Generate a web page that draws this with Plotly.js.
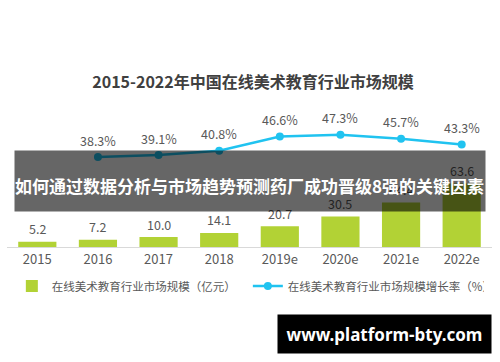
<!DOCTYPE html>
<html>
<head>
<meta charset="utf-8">
<script src="https://cdn.plot.ly/plotly-3.0.1.min.js"></script>
<style>html,body{margin:0;padding:0;background:#fff;}#chart{width:500px;height:362px;}</style>
</head>
<body>
<div id="chart"></div>
<script>
// ---- data ----
const years = ['2015', '2016', '2017', '2018', '2019e', '2020e', '2021e', '2022e'];
const marketSize = [5.2, 7.2, 10.0, 14.1, 20.7, 30.5, 44.4, 63.6];
const growthYears = ['2016', '2017', '2018', '2019e', '2020e', '2021e', '2022e'];
const growthRate = [38.3, 39.1, 40.8, 46.6, 47.3, 45.7, 43.3];
const barName = '在线美术教育行业市场规模（亿元）';
const lineName = '在线美术教育行业市场规模增长率（%）';
const chartTitle = '2015-2022年中国在线美术教育行业市场规模';
const overlayText = '如何通过数据分析与市场趋势预测药厂成功晋级8强的关键因素';
const watermarkText = 'www.platform-bty.com';

const FONT = '"Noto Sans CJK SC", "Noto Sans", sans-serif';
const GRAY = '#595959';
const GREEN = '#B2D235';
const CYAN = '#20C3F0';

const traces = [
  {
    type: 'bar', x: years, y: marketSize, name: barName,
    marker: {color: GREEN}, hoverinfo: 'skip'
  },
  {
    type: 'scatter', mode: 'lines+markers', x: growthYears, y: growthRate, name: lineName,
    yaxis: 'y2', line: {color: CYAN, width: 2.5}, marker: {color: CYAN, size: 8},
    hoverinfo: 'skip'
  }
];

// on a category axis, annotation x is the category index
const catIndex = (c) => years.indexOf(c);

const annotations = [];
// bar value labels (drawn first so the overlay covers them)
years.forEach((yr, i) => {
  annotations.push({
    x: catIndex(yr), y: marketSize[i], xref: 'x', yref: 'y', text: marketSize[i].toFixed(1),
    showarrow: false, yshift: 13, font: {family: FONT, size: 12.5, color: GRAY}
  });
});
// dark overlay band
annotations.push({
  xref: 'paper', yref: 'paper', x: 0.501, y: 0.441, xanchor: 'center', yanchor: 'middle',
  text: ' ', showarrow: false, width: 470, height: 60, borderpad: 0,
  bgcolor: 'rgba(0,0,0,0.6)', font: {size: 10, color: 'rgba(0,0,0,0)'}
});
// overlay text
annotations.push({
  xref: 'paper', yref: 'paper', x: 0.501, y: 0.41, xanchor: 'center', yanchor: 'middle',
  text: '<b>' + overlayText + '</b>', showarrow: false,
  font: {family: FONT, size: 17, color: '#ffffff'}
});
// growth-rate labels
growthYears.forEach((yr, i) => {
  annotations.push({
    x: catIndex(yr), y: growthRate[i], xref: 'x', yref: 'y2', text: growthRate[i].toFixed(1) + '%',
    showarrow: false, yshift: 17, font: {family: FONT, size: 12.5, color: GRAY}
  });
});
// watermark box
annotations.push({
  xref: 'paper', yref: 'paper', x: 0.778, y: -0.58, xanchor: 'center', yanchor: 'middle',
  text: '<b>' + watermarkText + '</b>', showarrow: false, width: 213, height: 38, borderpad: 0,
  bgcolor: '#000000', font: {family: '"Noto Sans", sans-serif', size: 17, color: '#ffffff'}
});

const layout = {
  width: 500, height: 362,
  margin: {l: 7, r: 8, t: 97, b: 115},
  paper_bgcolor: '#ffffff', plot_bgcolor: '#ffffff',
  font: {family: FONT, color: GRAY},
  title: {
    text: '<b>' + chartTitle + '</b>', x: 0.506, xanchor: 'center', y: 0.771, yanchor: 'middle',
    font: {family: FONT, size: 16, color: '#404040'}
  },
  bargap: 0.37,
  xaxis: {
    type: 'category', categoryorder: 'array', categoryarray: years, range: [-0.5, 7.5],
    showline: true, linecolor: '#D9D9D9', linewidth: 1, showgrid: false, zeroline: false,
    ticks: '', tickfont: {family: FONT, size: 13, color: GRAY}
  },
  yaxis: {range: [0, 150], visible: false, showgrid: false, zeroline: false},
  yaxis2: {range: [2, 62.5], overlaying: 'y', side: 'right', visible: false, showgrid: false, zeroline: false},
  showlegend: true,
  legend: {
    orientation: 'h', x: 0.01, xanchor: 'left', y: -0.26, yanchor: 'middle',
    font: {family: FONT, size: 11.5, color: GRAY}, entrywidth: 191, entrywidthmode: 'pixels',
    bgcolor: 'rgba(0,0,0,0)'
  },
  annotations: annotations
};

Plotly.newPlot('chart', traces, layout, {displayModeBar: false, staticPlot: true});
</script>
</body>
</html>
